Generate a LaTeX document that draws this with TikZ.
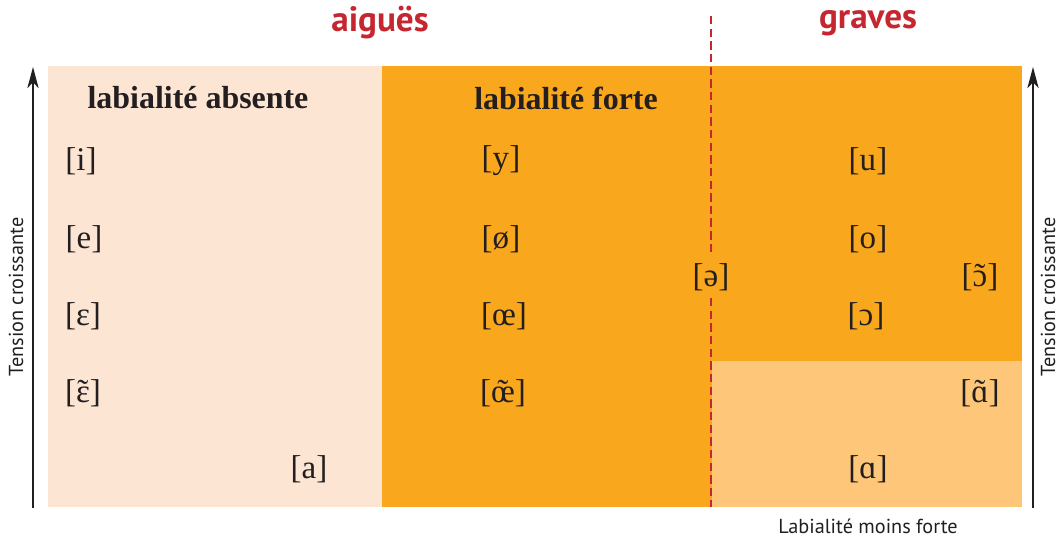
\documentclass[tikz,border=0pt]{standalone}
\usepackage{fontspec}
\setmainfont{Liberation Serif}
\setsansfont{PT Sans}
\usetikzlibrary{arrows.meta}
\definecolor{peche}{HTML}{FDE5D3}
\definecolor{orangefort}{HTML}{F9A71D}
\definecolor{orangeclair}{HTML}{FEC678}
\definecolor{rouge}{HTML}{C5262F}
\definecolor{ink}{HTML}{231F20}
\newcommand{\nasale}[1]{{\accent"02DC #1}}
\begin{document}
\begin{tikzpicture}[x=0.025cm,y=-0.025cm,>={Stealth[length=15pt,width=8pt,inset=4pt]},
	phon/.style={font=\fontsize{23.5}{27}\selectfont,text=ink},
	titre/.style={font=\fontsize{22.7}{26}\selectfont\bfseries,text=ink},
	cote/.style={font=\sffamily\fontsize{14.4}{16}\selectfont,text=ink},
	zone/.style={font=\sffamily\bfseries\fontsize{25}{28}\selectfont,text=rouge},
	tiret/.style={rouge,line width=2pt,dash pattern=on 6pt off 3pt}]
	\useasboundingbox (0,0) rectangle (1060,541);
	% fonds
	\fill[peche] (48,66) rectangle (382,507);
	\fill[orangefort] (382,66) rectangle (1022,507);
	\fill[orangeclair] (712,361) rectangle (1022,507);
	% axes de tension
	\coordinate (gbas) at (33,508); \coordinate (ghaut) at (33,67);
	\coordinate (dbas) at (1033,508); \coordinate (dhaut) at (1033,67);
	\draw[->,ink,line width=0.9pt] (gbas)--(ghaut);
	\draw[->,ink,line width=0.9pt] (dbas)--(dhaut);
	\node[cote,rotate=90] (tg) at (16,297) {Tension croissante};
	\node[cote,rotate=90] (td) at (1048,297) {Tension croissante};
	\node[cote] (lmf) at (868,526) {Labialité moins forte};
	% zones
	\node[zone] (aigues) at (380,23) {aiguës};
	\node[zone] (graves) at (868,23) {graves};
	\node[titre] (absente) at (198,98) {labialité absente};
	\node[titre] (forte) at (566,98) {labialité forte};
	% voyelles
	\node[phon] (i) at (81,161) {[i]};
	\node[phon] (e) at (84,239) {[e]};
	\node[phon] (eo) at (83,316) {[ɛ]};
	\node[phon] (en) at (83,393) {[\nasale{ɛ}]};
	\node[phon] (a) at (309,469) {[a]};
	\node[phon] (y) at (501,161) {[y]};
	\node[phon] (eu) at (501,239) {[ø]};
	\node[phon] (oe) at (504,316) {[œ]};
	\node[phon] (un) at (503,393) {[\nasale{œ}]};
	\node[phon] (u) at (868,161) {[u]};
	\node[phon] (o) at (868,239) {[o]};
	\node[phon] (oo) at (866,316) {[ɔ]};
	\node[phon] (aa) at (868,469) {[ɑ]};
	\node[phon] (on) at (980,277) {[\nasale{ɔ}]};
	\node[phon] (an) at (980,393) {[\nasale{ɑ}]};
	\node[phon,inner ysep=5pt] (schwa) at (711,277) {[ə]};
	% frontiere aigues / graves
	\coordinate (fhaut) at (711,16); \coordinate (fbas) at (711,507);
	\draw[tiret] (fhaut)--(schwa.north) (schwa.south)--(fbas);
\end{tikzpicture}
\end{document}
